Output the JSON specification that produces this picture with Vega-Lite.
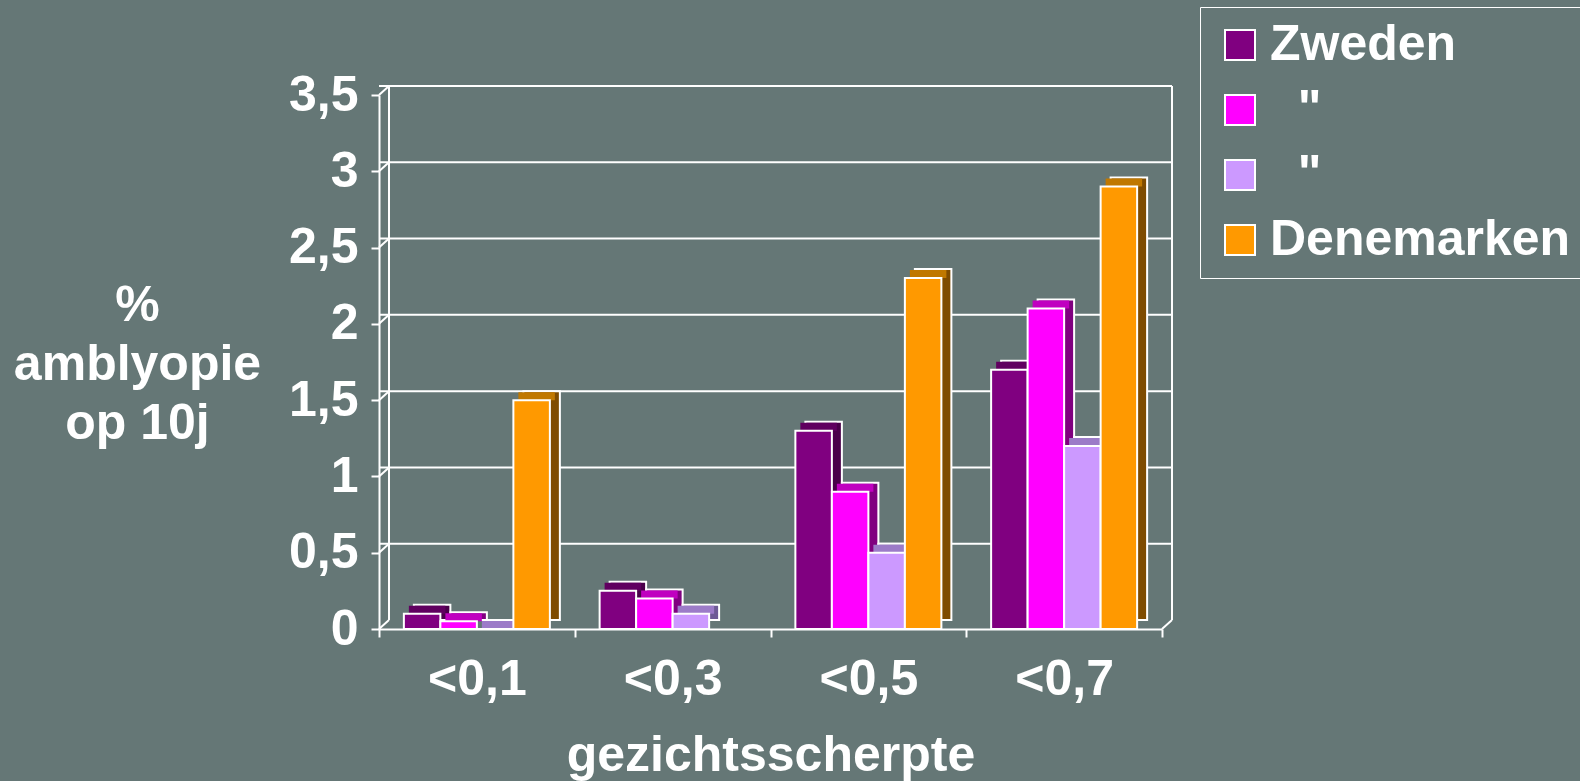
{
  "$schema": "https://vega.github.io/schema/vega-lite/v6.json",
  "width": 783,
  "height": 534,
  "autosize": {"type": "none"},
  "padding": {"left": 379, "top": 95, "right": 418, "bottom": 152},
  "background": "#657776",
  "config": {
    "view": {"stroke": null},
    "font": "Liberation Sans",
    "axis": {
      "domainColor": "white", "domainWidth": 2,
      "tickColor": "white", "tickWidth": 2, "tickSize": 8,
      "labelColor": "white", "labelFontSize": 50, "labelFontWeight": "bold", "labelFont": "Liberation Sans",
      "titleColor": "white", "titleFontSize": 50, "titleFontWeight": "bold", "titleFont": "Liberation Sans",
      "grid": false
    }
  },
  "datasets": {
    "bars": [
      {"cat": "<0,1", "series": "Zweden", "v": 0.1},
      {"cat": "<0,1", "series": "Zweden b", "v": 0.05},
      {"cat": "<0,1", "series": "Zweden c", "v": 0},
      {"cat": "<0,1", "series": "Denemarken", "v": 1.5},
      {"cat": "<0,3", "series": "Zweden", "v": 0.25},
      {"cat": "<0,3", "series": "Zweden b", "v": 0.2},
      {"cat": "<0,3", "series": "Zweden c", "v": 0.1},
      {"cat": "<0,3", "series": "Denemarken", "v": null},
      {"cat": "<0,5", "series": "Zweden", "v": 1.3},
      {"cat": "<0,5", "series": "Zweden b", "v": 0.9},
      {"cat": "<0,5", "series": "Zweden c", "v": 0.5},
      {"cat": "<0,5", "series": "Denemarken", "v": 2.3},
      {"cat": "<0,7", "series": "Zweden", "v": 1.7},
      {"cat": "<0,7", "series": "Zweden b", "v": 2.1},
      {"cat": "<0,7", "series": "Zweden c", "v": 1.2},
      {"cat": "<0,7", "series": "Denemarken", "v": 2.9}
    ],
    "grid": [
      {"g": 0.5}, {"g": 1}, {"g": 1.5}, {"g": 2}, {"g": 2.5}, {"g": 3}, {"g": 3.5}
    ],
    "conn": [
      {"p": 0, "g": 0}, {"p": 0, "g": 0.5}, {"p": 0, "g": 1}, {"p": 0, "g": 1.5}, {"p": 0, "g": 2},
      {"p": 0, "g": 2.5}, {"p": 0, "g": 3}, {"p": 0, "g": 3.5}, {"p": 1, "g": 0}
    ],
    "walls": [{"p": 0}, {"p": 1}]
  },
  "resolve": {"scale": {"x": "independent", "xOffset": "independent", "fill": "independent"}},
  "layer": [
    {
      "mark": {"type": "rule", "color": "#808080", "strokeWidth": 9, "yOffset": -4.5, "xOffset": 5},
      "encoding": {
        "y": {"datum": 0, "type": "quantitative", "scale": {"domain": [0, 3.5]}}
      }
    },
    {
      "data": {"name": "grid"},
      "mark": {"type": "rule", "color": "white", "strokeWidth": 2, "yOffset": -9, "xOffset": 10},
      "encoding": {
        "y": {"field": "g", "type": "quantitative", "scale": {"domain": [0, 3.5]}}
      }
    },
    {
      "data": {"name": "walls"},
      "mark": {"type": "rule", "color": "white", "strokeWidth": 2, "xOffset": 10, "yOffset": -9, "y2Offset": -9},
      "encoding": {
        "x": {"field": "p", "type": "quantitative", "scale": {"domain": [0, 1]}, "axis": null},
        "y": {"datum": 0, "type": "quantitative", "scale": {"domain": [0, 3.5]}},
        "y2": {"datum": 3.5}
      }
    },
    {
      "data": {"name": "conn"},
      "mark": {"type": "rule", "color": "white", "strokeWidth": 2, "x2Offset": 10, "y2Offset": -9},
      "encoding": {
        "x": {"field": "p", "type": "quantitative", "scale": {"domain": [0, 1]}, "axis": null},
        "x2": {"field": "p"},
        "y": {"field": "g", "type": "quantitative", "scale": {"domain": [0, 3.5]}},
        "y2": {"field": "g"}
      }
    },
    {
      "data": {"name": "bars"},
      "mark": {"type": "bar", "stroke": "white", "strokeWidth": 2, "yOffset": -9, "y2Offset": -9},
      "encoding": {
        "x": {"field": "cat", "type": "nominal", "scale": {"paddingInner": 0, "paddingOuter": 0}, "axis": null},
        "xOffset": {"field": "series", "type": "nominal", "scale": {"domain": ["Zweden", "Zweden b", "Zweden c", "Denemarken"], "paddingInner": 0, "paddingOuter": 0.6815, "align": 0.701}},
        "y": {"field": "v", "type": "quantitative", "scale": {"domain": [0, 3.5]}},
        "fill": {"field": "series", "type": "nominal", "legend": null,
          "scale": {"domain": ["Denemarken", "Zweden c", "Zweden b", "Zweden"], "range": ["#7f4c00", "#6e5a96", "#800080", "#4a004a"]}}
      }
    },
    {
      "data": {"name": "bars"},
      "mark": {"type": "bar", "yOffset": -8},
      "encoding": {
        "x": {"field": "cat", "type": "nominal", "scale": {"paddingInner": 0, "paddingOuter": 0}, "axis": null},
        "xOffset": {"field": "series", "type": "nominal", "scale": {"domain": ["Zweden", "Zweden b", "Zweden c", "Denemarken"], "paddingInner": 0, "paddingOuter": 0.6815, "align": 0.6005}},
        "y": {"field": "v", "type": "quantitative", "scale": {"domain": [0, 3.5]}},
        "y2": {"field": "v"},
        "fill": {"field": "series", "type": "nominal", "legend": null,
          "scale": {"domain": ["Zweden c", "Denemarken", "Zweden", "Zweden b"], "range": ["#9c7bc8", "#c07800", "#600060", "#c000c0"]}}
      }
    },
    {
      "data": {"name": "bars"},
      "mark": {"type": "bar", "stroke": "white", "strokeWidth": 2},
      "encoding": {
        "x": {"field": "cat", "type": "nominal", "scale": {"paddingInner": 0, "paddingOuter": 0},
          "axis": {"title": "gezichtsscherpte", "labelAngle": 0, "tickBand": "extent", "labelPadding": 17, "titlePadding": 26}},
        "xOffset": {"field": "series", "type": "nominal", "scale": {"domain": ["Zweden", "Zweden b", "Zweden c", "Denemarken"], "paddingInner": 0, "paddingOuter": 0.6815, "align": 0.5}},
        "y": {"field": "v", "type": "quantitative", "scale": {"domain": [0, 3.5]},
          "axis": {"values": [0, 0.5, 1, 1.5, 2, 2.5, 3, 3.5], "labelExpr": "replace(toString(datum.value), '.', ',')", "labelPadding": 13,
            "title": ["%", "amblyopie", "op 10j"], "titleAngle": 0, "titleAlign": "center", "titleBaseline": "middle",
            "titleX": -242, "titleY": 210, "titleLineHeight": 59}},
        "color": {"field": "series", "type": "nominal",
          "scale": {"domain": ["Zweden", "Zweden b", "Zweden c", "Denemarken"], "range": ["#800080", "#FF00FF", "#CC99FF", "#FF9900"]},
          "legend": {"title": null, "orient": "none", "legendX": 821, "legendY": -88, "padding": 13,
            "strokeColor": "white", "symbolType": "square", "symbolSize": 900, "symbolStrokeColor": "white", "symbolStrokeWidth": 2,
            "symbolOpacity": 1,
            "labelFontSize": 50, "labelFontWeight": "bold", "labelColor": "white", "labelFont": "Liberation Sans",
            "rowPadding": 15, "symbolOffset": 2, "labelOffset": 5, "labelLimit": 1000,
            "labelExpr": "datum.value === 'Zweden' ? 'Zweden' : datum.value === 'Denemarken' ? 'Denemarken\u00a0\u00a0\u200b' : '\u200b\u00a0\u00a0\"'"}}
      }
    }
  ]
}
